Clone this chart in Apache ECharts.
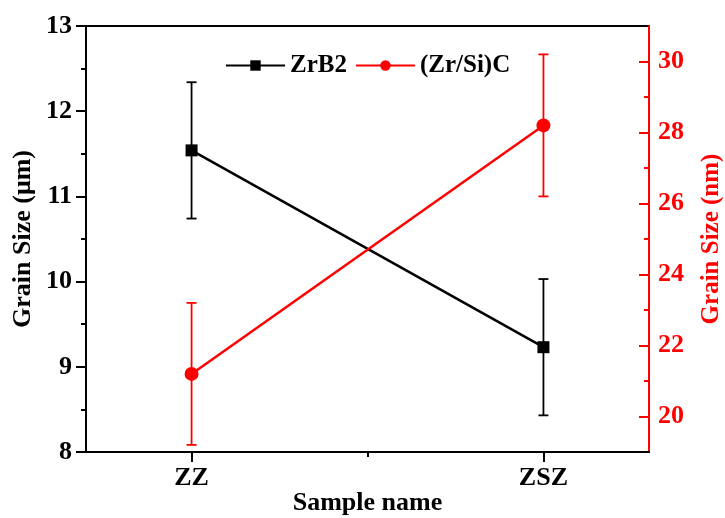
<!DOCTYPE html>
<html>
<head>
<meta charset="utf-8">
<title>Grain Size</title>
<script src="https://cdn.jsdelivr.net/npm/echarts@6/dist/echarts.min.js"></script>
<style>
    html, body { margin: 0; padding: 0; background: #fff; }
    #chart { width: 725px; height: 518px; }
</style>
</head>
<body>
<div id="chart"></div>
<script>
// data
var categories = ['ZZ', 'ZSZ'];
var zrb2Size = [11.54, 9.23];
var zrb2Err = [0.8, 0.8];
var sicSize = [21.2, 28.2];
var sicErr = [2.0, 2.0];
var leftRange = [8, 13];
var rightRange = [19, 31];
var rightMajor = [20, 22, 24, 26, 28, 30];
var rightMinor = [21, 23, 25, 27, 29];
var xMajor = [1, 2];
var xMinor = [1.5];

(function () {
    var font = '"Liberation Serif", "Times New Roman", serif';
    var red = '#ff0000';

    function points(vals) {
        return vals.map(function (v, i) { return [i + 1, v]; });
    }

    function bars(vals, errs) {
        return vals.map(function (v, i) { return [i + 1, v - errs[i], v + errs[i]]; });
    }

    // vertical error bar with caps
    function errorBar(color) {
        return function (params, api) {
            var top = api.coord([api.value(0), api.value(2)]),
                bot = api.coord([api.value(0), api.value(1)]),
                hw = 5,
                style = {stroke: color, lineWidth: 1.8};
            return {
                type: 'group',
                children: [
                    {type: 'line', shape: {x1: top[0], y1: top[1], x2: bot[0], y2: bot[1]}, style: style},
                    {type: 'line', shape: {x1: top[0] - hw, y1: top[1], x2: top[0] + hw, y2: top[1]}, style: style},
                    {type: 'line', shape: {x1: bot[0] - hw, y1: bot[1], x2: bot[0] + hw, y2: bot[1]}, style: style}
                ]
            };
        };
    }

    var option = {
        animation: false,
        backgroundColor: '#fff',
        textStyle: {fontFamily: font},
        grid: {
            left: 86, right: 76, top: 26, bottom: 66,
            containLabel: false, outerBoundsMode: 'none',
            show: true, borderColor: '#000', borderWidth: 2
        },
        legend: {
            data: ['ZrB2', '(Zr/Si)C'],
            left: 220, top: 48,
            itemWidth: 59, itemHeight: 13, itemGap: 8,
            textStyle: {fontFamily: font, fontWeight: 'bold', fontSize: 25, color: '#000'}
        },
        xAxis: [
            {
                type: 'value', min: 0.7, max: 2.3,
                name: 'Sample name', nameLocation: 'middle', nameGap: 38, nameMoveOverlap: false,
                nameTextStyle: {fontFamily: font, fontWeight: 'bold', fontSize: 26, color: '#000'},
                splitLine: {show: false},
                axisLine: {lineStyle: {color: '#000', width: 2}},
                axisTick: {customValues: xMajor, length: 10, lineStyle: {width: 2}},
                axisLabel: {
                    customValues: xMajor, margin: 13,
                    fontFamily: font, fontWeight: 'bold', fontSize: 26, color: '#000',
                    formatter: function (v) { return categories[Math.round(v) - 1] || ''; }
                }
            },
            {
                type: 'value', min: 0.7, max: 2.3, position: 'bottom',
                splitLine: {show: false},
                axisLine: {show: false},
                axisTick: {customValues: xMinor, length: 5, lineStyle: {color: '#000', width: 2}},
                axisLabel: {show: false}
            }
        ],
        yAxis: [
            {
                type: 'value', min: leftRange[0], max: leftRange[1], interval: 1,
                name: 'Grain Size (\u03bcm)', nameLocation: 'middle', nameGap: 50, nameMoveOverlap: false,
                nameTextStyle: {fontFamily: font, fontWeight: 'bold', fontSize: 26, color: '#000'},
                splitLine: {show: false},
                axisLine: {show: true, lineStyle: {color: '#000', width: 2}},
                axisTick: {length: 10, lineStyle: {width: 2}},
                minorTick: {show: true, splitNumber: 2, length: 5, lineStyle: {color: '#000', width: 2}},
                axisLabel: {margin: 14, fontFamily: font, fontWeight: 'bold', fontSize: 26, color: '#000'}
            },
            {
                type: 'value', min: rightRange[0], max: rightRange[1], position: 'right',
                name: 'Grain Size (nm)', nameLocation: 'middle', nameGap: 50, nameMoveOverlap: false,
                nameTextStyle: {fontFamily: font, fontWeight: 'bold', fontSize: 25, color: red},
                splitLine: {show: false},
                axisLine: {show: true, lineStyle: {color: red, width: 2}},
                axisTick: {customValues: rightMajor, inside: true, length: 10, lineStyle: {color: red, width: 2}},
                axisLabel: {customValues: rightMajor, margin: 9, fontFamily: font, fontWeight: 'bold', fontSize: 26, color: red}
            },
            {
                type: 'value', min: rightRange[0], max: rightRange[1], position: 'right',
                splitLine: {show: false},
                axisLine: {show: false},
                axisTick: {customValues: rightMinor, inside: true, length: 5, lineStyle: {color: red, width: 2}},
                axisLabel: {show: false}
            }
        ],
        series: [
            {
                name: 'zrb2-err', type: 'custom', yAxisIndex: 0, z: 1,
                renderItem: errorBar('#000'),
                data: bars(zrb2Size, zrb2Err)
            },
            {
                name: 'sic-err', type: 'custom', yAxisIndex: 1, z: 1,
                renderItem: errorBar(red),
                data: bars(sicSize, sicErr)
            },
            {
                name: 'ZrB2', type: 'line', yAxisIndex: 0, z: 3,
                symbol: 'rect', symbolSize: 12,
                lineStyle: {color: '#000', width: 2.5},
                itemStyle: {color: '#000'},
                data: points(zrb2Size)
            },
            {
                name: '(Zr/Si)C', type: 'line', yAxisIndex: 1, z: 3,
                symbol: 'circle', symbolSize: 14,
                lineStyle: {color: red, width: 2.5},
                itemStyle: {color: red},
                data: points(sicSize)
            }
        ]
    };

    var chart = echarts.init(document.getElementById('chart'));
    chart.setOption(option);
})();
</script>
</body>
</html>
